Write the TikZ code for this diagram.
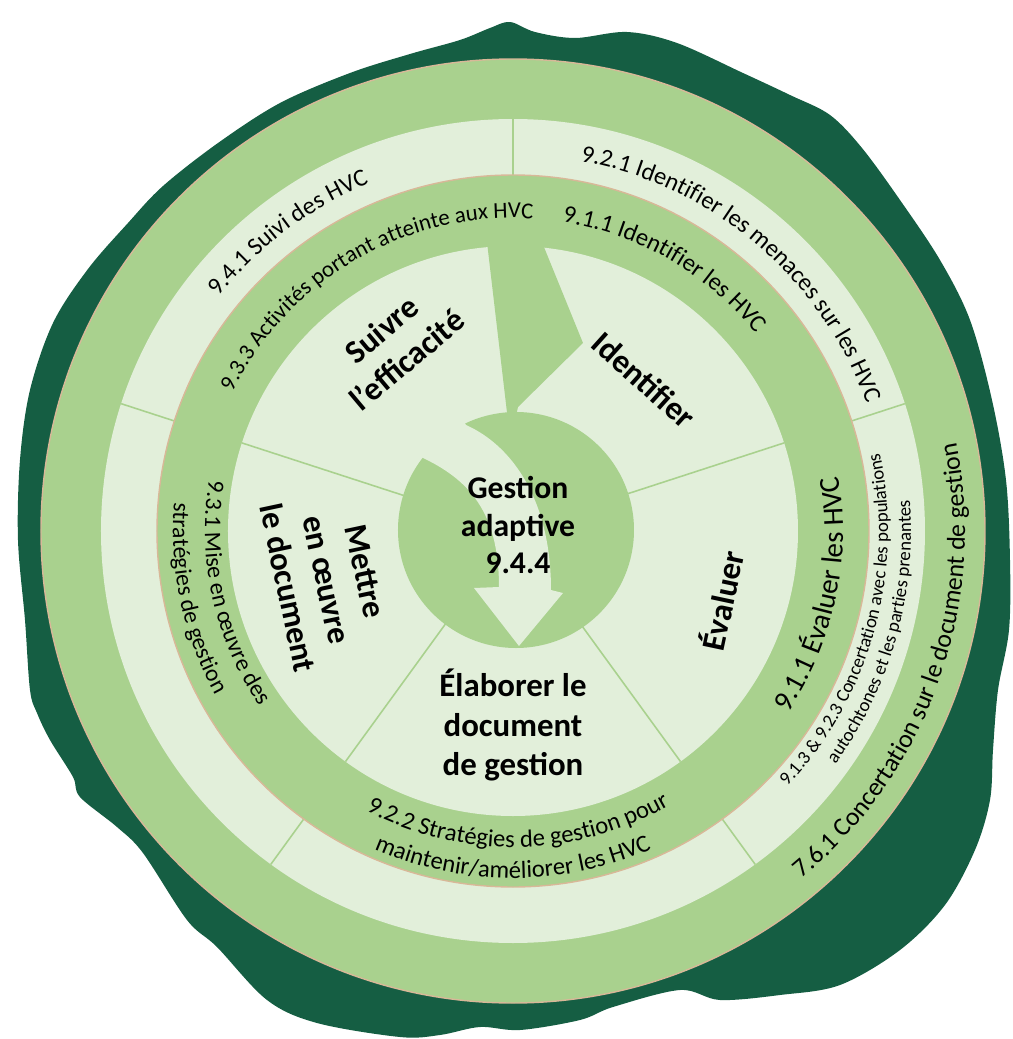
\documentclass[tikz,border=0pt]{standalone}
\usepackage{fontspec}
\setmainfont{Carlito}
\usetikzlibrary{decorations.text}

\definecolor{barkgreen}{HTML}{155E43}
\definecolor{ringgreen}{HTML}{A9D18E}
\definecolor{palegreen}{HTML}{E2EFDA}
\definecolor{tanline}{HTML}{D8B898}

\newcommand{\rsize}[1]{\fontsize{#1}{#1}\selectfont}

\begin{document}
\begin{tikzpicture}[x=0.02cm, y=0.02cm,
    phase/.style={font=\bfseries\fontsize{18.7}{22.5}\selectfont, align=center, inner sep=0pt},
    divider/.style={ringgreen, line width=0.9pt}]
\useasboundingbox (-513,-508) rectangle (499,531);

% Bark
\fill[barkgreen] plot[smooth cycle, tension=0.55] coordinates {
  (-350,345) (-295,388) (-233,428) (-163,458) (-103,477) (-53,491) (-23,503) (-3,509)
  (22,499) (62,493) (114,499) (164,488) (230,458) (277,436) (317,416) (349,383)
  (387,331) (427,271) (457,211) (479,131) (493,51) (497,-29) (496,-99) (485,-159)
  (480,-219) (477,-269) (462,-319) (432,-374) (387,-419) (327,-454) (267,-464)
  (207,-469) (167,-459) (100,-476) (67,-489) (7,-499) (-33,-496) (-73,-504)
  (-113,-506) (-196,-492) (-246,-469) (-296,-416) (-326,-389) (-370,-322)
  (-396,-296) (-433,-266) (-440,-246) (-463,-209) (-476,-182) (-483,-159)
  (-488,-89) (-495,-9) (-493,71) (-483,141) (-460,208) (-425,262) (-385,308)};

% Rings
\filldraw[fill=ringgreen, draw=tanline, line width=0.8pt] (0,0) circle[radius=472];
\fill[palegreen] (0,0) circle[radius=412];
\foreach \a in {90,18,-54,-126,162}
  \draw[divider] (\a:356) -- (\a:412);
\filldraw[fill=ringgreen, draw=tanline, line width=0.8pt] (0,0) circle[radius=356];
\fill[palegreen] (0,0) circle[radius=285];
\foreach \a in {18,-54,-126,162}
  \draw[divider] (\a:110) -- (\a:285);

% Arrow into the centre
\fill[ringgreen] (-28,306) -- (22,306) -- (70,188) -- (5,124) -- (2,110) -- (-5,110) -- cycle;
\fill[ringgreen] (3,1) circle[radius=118];
\fill[palegreen] (-92,74) .. controls (-45,52) and (-14,20) .. (-14,-56) -- (-39,-57)
  -- (6,-115) -- (50,-62) -- (38,-59) .. controls (38,30) and (0,85) .. (-47,106)
  -- (-52,116) -- (-100,80) -- cycle;

% Phases
\node[phase, rotate=40] (suivre) at (122.5:221) {Suivre\\l’efficacité};
\node[phase, rotate=-42] (identifier) at (49:200) {Identifier};
\node[phase, rotate=78] (evaluer) at (-18.4:219) {Évaluer};
\node[phase] (elaborer) at (0,-194) {Élaborer le\\document\\de gestion};
\node[phase, rotate=-78] (mettre) at (194.7:193) {Mettre\\en œuvre\\le document};
\node[phase, font=\bfseries\fontsize{18}{21.5}\selectfont] (gestion) at (5,6) {Gestion\\adaptive\\9.4.4};

% Inner ring
\path[decorate, decoration={text along path, text align=center,
  text={|\rsize{13}|9.3.3 Activités portant atteinte aux HVC}}]
  (190:313) arc[start angle=190, end angle=50, radius=313];
\path[decorate, decoration={text along path, text align=center,
  text={|\rsize{14}|9.1.1 Identifier les HVC}}]
  (130:313) arc[start angle=130, end angle=-10, radius=313];
\path[decorate, decoration={text along path, text align=center,
  text={|\rsize{16.5}|9.1.1 Évaluer les HVC}}]
  (-80:330) arc[start angle=-80, end angle=56, radius=330];
\path[decorate, decoration={text along path, text align=center,
  text={|\rsize{14}|9.2.2 Stratégies de gestion pour}}]
  (-160:316) arc[start angle=-160, end angle=-18, radius=316];
\path[decorate, decoration={text along path, text align=center,
  text={|\rsize{14}|maintenir/améliorer les HVC}}]
  (-160:347) arc[start angle=-160, end angle=-20, radius=347];
\path[decorate, decoration={text along path, text align=center,
  text={|\rsize{13.5}|9.3.1 Mise en œuvre des}}]
  (122:308) arc[start angle=122, end angle=263, radius=308];
\path[decorate, decoration={text along path, text align=center,
  text={|\rsize{13.5}|stratégies de gestion}}]
  (122:340) arc[start angle=122, end angle=262, radius=340];

% Middle band
\path[decorate, decoration={text along path, text align=center,
  text={|\rsize{14}|9.4.1 Suivi des HVC}}]
  (200:376) arc[start angle=200, end angle=54, radius=376];
\path[decorate, decoration={text along path, text align=center,
  text={|\rsize{14}|9.2.1 Identifier les menaces sur les HVC}}]
  (120:376) arc[start angle=120, end angle=-20.5, radius=376];
\path[decorate, decoration={text along path, text align=center,
  text={|\rsize{10.7}|9.1.3 {\&} 9.2.3 Concertation avec les populations}}]
  (-85:375) arc[start angle=-85, end angle=54, radius=375];
\path[decorate, decoration={text along path, text align=center,
  text={|\rsize{10.7}|autochtones et les parties prenantes}}]
  (-85:398) arc[start angle=-85, end angle=53.6, radius=398];

% Outer ring
\path[decorate, decoration={text along path, text align=center,
  text={|\rsize{14.7}|7.6.1 Concertation sur le document de gestion}}]
  (-90:452) arc[start angle=-90, end angle=51, radius=452];
\end{tikzpicture}
\end{document}
